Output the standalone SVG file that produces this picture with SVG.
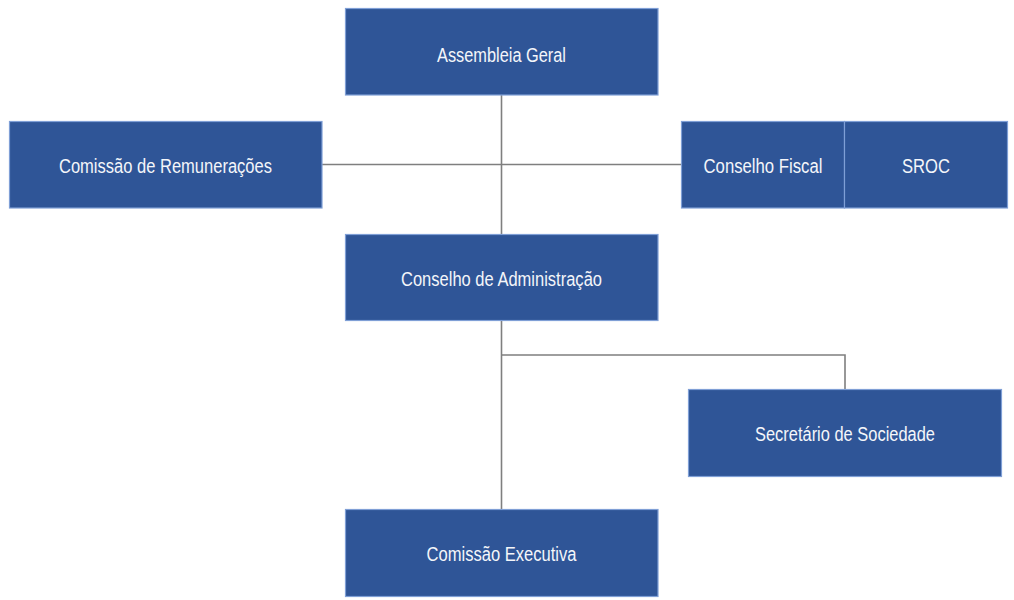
<svg xmlns="http://www.w3.org/2000/svg" width="1014" height="600" viewBox="0 0 1014 600">
<style>
.box{fill:#2F5597;stroke:#7F9FD6;stroke-width:1.2}
.lbl{font-family:"Liberation Sans",Arial,sans-serif;font-size:20px;fill:#F4F6FA;text-anchor:middle}
.conn{fill:none;stroke:#7F7F7F;stroke-width:1.6}
</style>
<rect width="1014" height="600" fill="#FFFFFF"/>
<g id="connectors">
<path class="conn" d="M501.5 95 V234"/>
<path class="conn" d="M322 164.5 H681"/>
<path class="conn" d="M501.5 320 V509"/>
<path class="conn" d="M501.5 355 H845 V389"/>
</g>
<g id="assembleia-geral">
<rect class="box" x="345.5" y="8.5" width="312.5" height="86.5"/>
<text class="lbl" x="501.5" y="62" textLength="129" lengthAdjust="spacingAndGlyphs">Assembleia Geral</text>
</g>
<g id="comissao-remuneracoes">
<rect class="box" x="9.5" y="121.5" width="312.5" height="86.5"/>
<text class="lbl" x="165.5" y="172.5" textLength="213" lengthAdjust="spacingAndGlyphs">Comissão de Remunerações</text>
</g>
<g id="conselho-fiscal">
<rect class="box" x="681.5" y="121.5" width="163" height="86.5"/>
<text class="lbl" x="763" y="172.5" textLength="119" lengthAdjust="spacingAndGlyphs">Conselho Fiscal</text>
</g>
<g id="sroc">
<rect class="box" x="844.5" y="121.5" width="163" height="86.5"/>
<text class="lbl" x="926" y="172.5" textLength="48" lengthAdjust="spacingAndGlyphs">SROC</text>
</g>
<g id="conselho-administracao">
<rect class="box" x="345.5" y="234.5" width="312.5" height="86"/>
<text class="lbl" x="501.5" y="285.5" textLength="201" lengthAdjust="spacingAndGlyphs">Conselho de Administração</text>
</g>
<g id="secretario-sociedade">
<rect class="box" x="688.5" y="389.5" width="313" height="87"/>
<text class="lbl" x="845" y="441" textLength="180" lengthAdjust="spacingAndGlyphs">Secretário de Sociedade</text>
</g>
<g id="comissao-executiva">
<rect class="box" x="345.5" y="509.5" width="312.5" height="87"/>
<text class="lbl" x="501.5" y="561" textLength="150" lengthAdjust="spacingAndGlyphs">Comissão Executiva</text>
</g>
</svg>
